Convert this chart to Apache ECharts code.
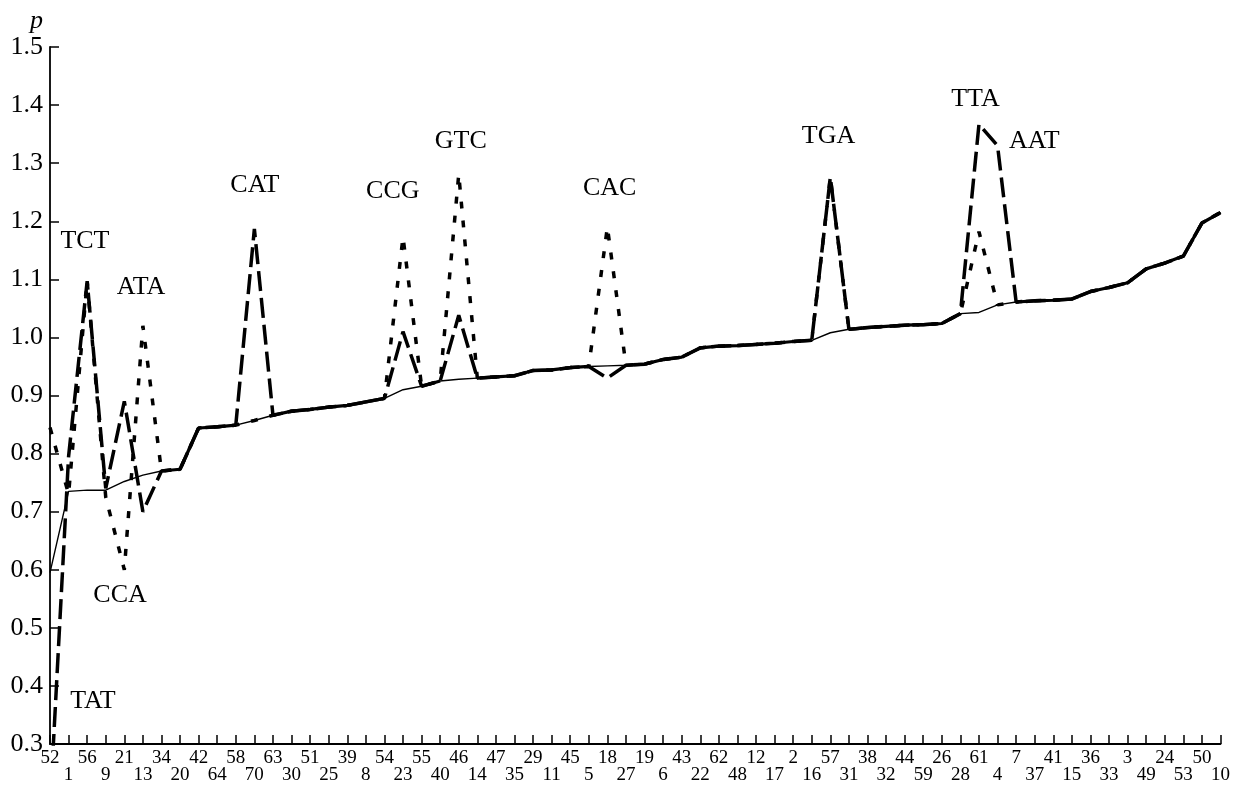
<!DOCTYPE html>
<html>
<head>
<meta charset="utf-8">
<script src="https://cdn.jsdelivr.net/npm/echarts@6/dist/echarts.min.js"></script>
<style>
html,body{margin:0;padding:0;background:#fff;}
#chart{width:1233px;height:785px;}
</style>
</head>
<body>
<div id="chart"></div>
<script>
// x categories (codon numbers, in plotted order)
const categories = ['52','1','56','9','21','13','34','20','42','64','58','70','63','30','51','25','39','8','54','23','55','40','46','14','47','35','29','11','45','5','18','27','19','6','43','22','62','48','12','17','2','16','57','31','38','32','44','59','26','28','61','4','7','37','41','15','36','33','3','49','24','53','50','10'];

// thin solid line
const baseline = [0.595,0.735,0.737,0.737,0.752,0.763,0.770,0.773,0.844,0.846,
  0.849,0.857,0.866,0.873,0.876,0.880,0.883,0.889,0.895,0.910,
  0.916,0.925,0.928,0.930,0.932,0.934,0.943,0.944,0.948,0.950,
  0.951,0.952,0.954,0.962,0.966,0.982,0.985,0.986,0.988,0.990,
  0.993,0.995,1.008,1.014,1.017,1.019,1.021,1.022,1.024,1.041,
  1.043,1.056,1.061,1.063,1.064,1.066,1.079,1.086,1.094,1.118,
  1.128,1.140,1.197,1.215];

// long-dash line
const dashed = [0.19,0.795,1.097,0.740,0.890,0.700,0.770,0.773,0.844,0.846,
  0.849,1.187,0.866,0.873,0.876,0.880,0.883,0.889,0.895,1.010,
  0.916,0.925,1.038,0.930,0.932,0.934,0.943,0.944,0.948,0.950,
  0.930,0.952,0.954,0.962,0.966,0.982,0.985,0.986,0.988,0.990,
  0.993,0.995,1.276,1.014,1.017,1.019,1.021,1.022,1.024,1.041,
  1.367,1.330,1.061,1.063,1.064,1.066,1.079,1.086,1.094,1.118,
  1.128,1.140,1.197,1.215];

// short-dash (dotted) line
const dotted = [0.845,0.730,1.097,0.725,0.600,1.020,0.770,0.773,0.844,0.846,
  0.849,0.857,0.866,0.873,0.876,0.880,0.883,0.889,0.895,1.173,
  0.916,0.925,1.281,0.930,0.932,0.934,0.943,0.944,0.948,0.950,
  1.190,0.952,0.954,0.962,0.966,0.982,0.985,0.986,0.988,0.990,
  0.993,0.995,1.276,1.014,1.017,1.019,1.021,1.022,1.024,1.041,
  1.182,1.056,1.061,1.063,1.064,1.066,1.079,1.086,1.094,1.118,
  1.128,1.140,1.197,1.215];

// y tick range
const yMin = 0.3, yMax = 1.5, yStep = 0.1;

// annotations (codon names) at data positions
const annoText = ['TCT','ATA','CCA','TAT','CAT','CCG','GTC','CAC','TGA','TTA','AAT'];
const annoX = [1.88, 4.9, 3.77, 2.31, 11.03, 18.45, 22.11, 30.12, 41.9, 49.81, 52.98];
const annoY = [1.166, 1.086, 0.557, 0.374, 1.262, 1.252, 1.338, 1.257, 1.346, 1.41, 1.338];

// segments where all three curves coincide (drawn as one thick solid line)
const common = baseline.map((v, i) => (dashed[i] === v && dotted[i] === v) ? v : null);

const SERIF = "'Liberation Serif', 'Times New Roman', serif";
const chart = echarts.init(document.getElementById('chart'), null, {renderer: 'canvas'});
chart.setOption({
  animation: false,
  backgroundColor: '#fff',
  grid: {left: 50, right: 12, top: 47, bottom: 38, containLabel: false},
  xAxis: [{
    type: 'category',
    data: categories,
    boundaryGap: false,
    axisLine: {lineStyle: {color: '#000', width: 1.8}},
    axisTick: {inside: true, length: 9, interval: 0, lineStyle: {color: '#000', width: 1.5}},
    axisLabel: {
      interval: 0, margin: 6, color: '#000', fontFamily: SERIF, fontSize: 19, lineHeight: 17,
      formatter: (v, i) => (i % 2 ? '\n' + v : v)
    },
    splitLine: {show: false}
  }, {
    type: 'value', min: 0, max: categories.length - 1, show: false
  }],
  yAxis: {
    type: 'value', min: yMin, max: yMax, interval: yStep,
    name: 'p', nameLocation: 'end', nameGap: 10,
    nameTextStyle: {fontFamily: SERIF, fontStyle: 'italic', fontSize: 26, color: '#000', align: 'right', padding: [0, 7, 0, 0]},
    axisLine: {show: true, lineStyle: {color: '#000', width: 1.8}},
    axisTick: {show: true, inside: true, length: 9, lineStyle: {color: '#000', width: 1.5}},
    axisLabel: {color: '#000', fontFamily: SERIF, fontSize: 26, margin: 7, formatter: v => v.toFixed(1)},
    splitLine: {show: false}
  },
  series: [
    {type: 'line', data: baseline, symbol: 'none', lineStyle: {color: '#000', width: 1.4}, z: 2},
    {type: 'line', data: common, symbol: 'none', connectNulls: false, lineStyle: {color: '#000', width: 3.2}, z: 3},
    {type: 'line', data: dashed, symbol: 'none', lineStyle: {color: '#000', width: 3.5, type: [20, 7]}, z: 4},
    {type: 'line', data: dotted, symbol: 'none', lineStyle: {color: '#000', width: 3.5, type: [7, 12]}, z: 5},
    {
      type: 'scatter', xAxisIndex: 1, yAxisIndex: 0, symbolSize: 2, silent: true,
      itemStyle: {color: 'rgba(0,0,0,0)', opacity: 1},
      data: annoText.map((t, i) => ({name: t, value: [annoX[i], annoY[i]]})),
      label: {show: true, position: 'inside', formatter: p => p.name, color: '#000', opacity: 1, fontFamily: SERIF, fontSize: 26},
      z: 6
    }
  ]
});
</script>
</body>
</html>
